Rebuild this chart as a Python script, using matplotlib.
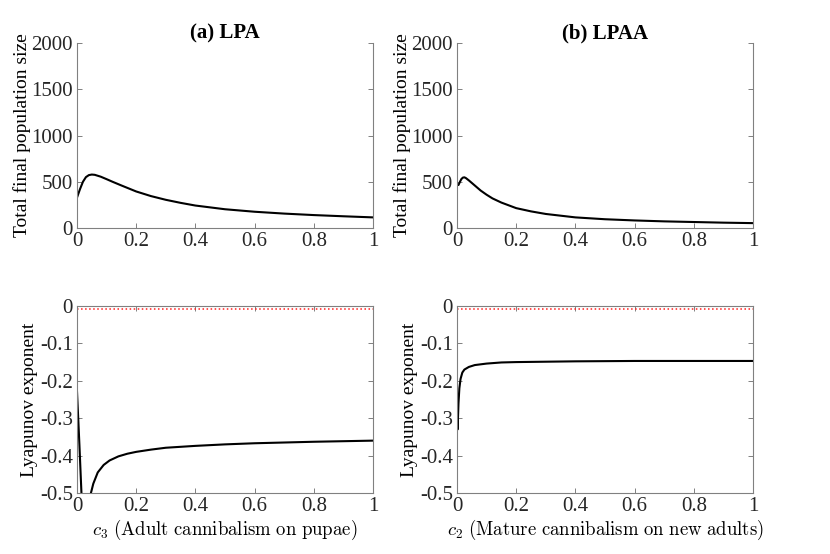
import matplotlib
matplotlib.use("Agg")
import matplotlib.pyplot as plt

plt.rcParams["font.family"] = ["Liberation Serif", "DejaVu Serif"]
plt.rcParams["mathtext.fontset"] = "cm"

# (a) LPA: total population vs c3
c3_pop = [0, 0.01, 0.02, 0.03, 0.04, 0.05, 0.06, 0.08, 0.1, 0.12, 0.15, 0.2,
          0.25, 0.3, 0.35, 0.4, 0.5, 0.6, 0.7, 0.8, 0.9, 1.0]
lpa_pop = [330, 420, 500, 550, 572, 578, 575, 555, 528, 500, 460, 395,
           345, 305, 272, 243, 203, 176, 156, 140, 127, 115]

# (b) LPAA: total population vs c2
c2_pop = [0, 0.005, 0.01, 0.015, 0.02, 0.025, 0.03, 0.04, 0.06, 0.08, 0.1,
          0.12, 0.15, 0.2, 0.25, 0.3, 0.4, 0.5, 0.6, 0.7, 0.8, 0.9, 1.0]
lpaa_pop = [470, 465, 500, 530, 545, 548, 540, 515, 460, 405, 360,
            320, 275, 215, 180, 152, 115, 95, 82, 72, 65, 58, 53]

# Lyapunov exponents
c3_lyap = [0, 0.008, 0.016, 0.03, 0.04, 0.047, 0.055, 0.07, 0.09, 0.11, 0.14,
           0.17, 0.2, 0.25, 0.3, 0.4, 0.5, 0.6, 0.8, 1.0]
lpa_lyap = [-0.23, -0.37, -0.52, -0.8, -0.62, -0.5, -0.475, -0.445, -0.425,
            -0.413, -0.402, -0.395, -0.39, -0.384, -0.379, -0.374, -0.37,
            -0.367, -0.363, -0.36]

c2_lyap = [0, 0.002, 0.005, 0.008, 0.012, 0.018, 0.025, 0.04, 0.06, 0.1,
           0.15, 0.2, 0.3, 0.4, 0.6, 0.8, 1.0]
lpaa_lyap = [-0.275, -0.33, -0.26, -0.22, -0.195, -0.178, -0.170, -0.163,
             -0.158, -0.154, -0.151, -0.150, -0.149, -0.148, -0.147, -0.147,
             -0.147]

xticks = [0, 0.2, 0.4, 0.6, 0.8, 1]
xticklabels = ["0", "0.2", "0.4", "0.6", "0.8", "1"]
pop_ticks = [0, 500, 1000, 1500, 2000]
lyap_ticks = [0, -0.1, -0.2, -0.3, -0.4, -0.5]
lyap_labels = ["0", "-0.1", "-0.2", "-0.3", "-0.4", "-0.5"]

spine_col = "#808080"
fs = 15

fig = plt.figure(figsize=(8.3, 5.54), dpi=100)
ax_tl = fig.add_axes([0.0928, 0.5884, 0.3566, 0.334])
ax_tr = fig.add_axes([0.5506, 0.5884, 0.3566, 0.334])
ax_bl = fig.add_axes([0.0928, 0.1101, 0.3566, 0.3376])
ax_br = fig.add_axes([0.5506, 0.1101, 0.3566, 0.3376])


def style(ax, top=True):
    for s in ax.spines.values():
        s.set_color(spine_col)
        s.set_linewidth(0.8)
    ax.spines["top"].set_visible(top)
    ax.tick_params(direction="in", length=3.5, width=0.7, color=spine_col,
                   labelsize=fs, labelcolor="#262626", top=top, right=True,
                   pad=3)
    ax.set_xlim(0, 1)
    ax.set_xticks(xticks)
    ax.set_xticklabels(xticklabels)


for ax, x, y, title in [(ax_tl, c3_pop, lpa_pop, "(a) LPA"),
                        (ax_tr, c2_pop, lpaa_pop, "(b) LPAA")]:
    ax.plot(x, y, color="black", lw=1.5)
    style(ax, top=False)
    ax.set_ylim(0, 2000)
    ax.set_yticks(pop_ticks)
    ax.set_ylabel("Total final population size", fontsize=14, labelpad=0)
    ax.set_title(title, fontsize=fs, fontweight="bold", pad=3)

for ax, x, y, xlabel in [(ax_bl, c3_lyap, lpa_lyap,
                          r"$c_3\ \mathrm{(Adult\ cannibalism\ on\ pupae)}$"),
                         (ax_br, c2_lyap, lpaa_lyap,
                          r"$c_2\ \mathrm{(Mature\ cannibalism\ on\ new\ adults)}$")]:
    ax.plot(x, y, color="black", lw=1.5)
    ax.axhline(-0.007, color="#ff2020", ls=":", lw=1.1)
    style(ax, top=True)
    ax.set_ylim(-0.5, 0)
    ax.set_yticks(lyap_ticks)
    ax.set_yticklabels(lyap_labels)
    ax.set_ylabel("Lyapunov exponent", fontsize=14, labelpad=1)
    ax.set_xlabel(xlabel, fontsize=13.5, labelpad=1)

fig.savefig("out.png", dpi=100)
